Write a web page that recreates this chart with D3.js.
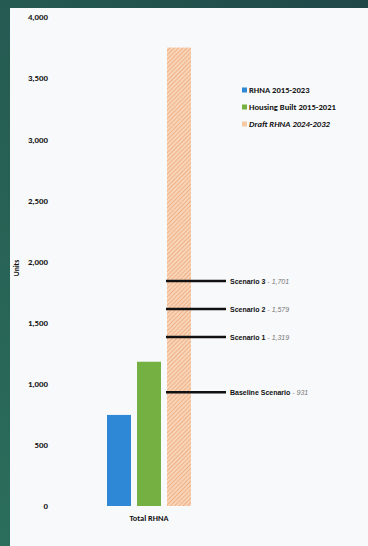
<!DOCTYPE html>
<html><head><meta charset="utf-8">
<script src="https://cdn.jsdelivr.net/npm/d3@7"></script>
<style>html,body{margin:0;padding:0;background:#2a6556;}svg{display:block;}</style>
</head><body>
<svg id="c" width="368" height="546"></svg>
<script>
const categories = ["Total RHNA"];
const seriesNames = ["RHNA 2015-2023", "Housing Built 2015-2021", "Draft RHNA 2024-2032"];
const seriesValues = [745, 1180, 3750];
const yTicks = [0, 500, 1000, 1500, 2000, 2500, 3000, 3500, 4000];
const scenarioNames = ["Baseline Scenario", "Scenario 1", "Scenario 2", "Scenario 3"];
const scenarioValues = [931, 1319, 1579, 1701];
const scenarioMarkerLevels = [931, 1382, 1611, 1840];

const svg = d3.select("#c");
const defs = svg.append("defs");
const g1 = defs.append("linearGradient").attr("id","bg").attr("x1",0).attr("y1",1).attr("x2",1).attr("y2",0);
g1.append("stop").attr("offset","0%").attr("stop-color","#2b6e5c");
g1.append("stop").attr("offset","100%").attr("stop-color","#1f4747");
svg.append("rect").attr("width",368).attr("height",546).attr("fill","url(#bg)");
svg.append("rect").attr("x",10).attr("y",8).attr("width",358).attr("height",538).attr("fill","#f8f9fb");

const pat = defs.append("pattern").attr("id","hatch").attr("patternUnits","userSpaceOnUse")
  .attr("width",3).attr("height",3).attr("patternTransform","rotate(45)");
pat.append("rect").attr("width",3).attr("height",3).attr("fill","#f8d4b8");
pat.append("line").attr("x1",0).attr("y1",0).attr("x2",0).attr("y2",3).attr("stroke","#eda372").attr("stroke-width",1.4);

const font = "Carlito, Lato, 'Liberation Sans', sans-serif";
const y = d3.scaleLinear().domain([0,4000]).range([506,17]);
const x0 = d3.scaleBand().domain(categories).range([107,191]).padding(0);
const x1 = d3.scaleBand().domain(seriesNames).range([0,x0.bandwidth()]).paddingInner(0.2).paddingOuter(0);
const colors = d3.scaleOrdinal().domain(seriesNames).range(["#2e88d6","#74b042","url(#hatch)"]);

const yAxis = svg.append("g").attr("transform","translate(49,0)")
  .call(d3.axisLeft(y).tickValues(yTicks).tickSize(0).tickPadding(1).tickFormat(d3.format(",")));
yAxis.select(".domain").remove();
yAxis.selectAll("text").attr("font-family",font).attr("font-weight","900").attr("font-size",8.8).attr("fill","#111");

svg.append("text").attr("transform","translate(19,268) rotate(-90)").attr("text-anchor","middle")
  .attr("font-family",font).attr("font-weight","900").attr("font-size",7.5).attr("fill","#111").text("Units");

const grp = svg.selectAll("g.cat").data(categories).join("g").attr("class","cat")
  .attr("transform",d=>`translate(${x0(d)},0)`);
grp.selectAll("rect").data(seriesNames.map((s,i)=>({s,v:seriesValues[i]}))).join("rect")
  .attr("x",d=>x1(d.s)).attr("width",x1.bandwidth())
  .attr("y",d=>y(d.v)).attr("height",d=>y(0)-y(d.v)).attr("fill",d=>colors(d.s));

const xAxis = svg.append("g").attr("transform","translate(0,506)")
  .call(d3.axisBottom(x0).tickSize(0).tickPadding(9));
xAxis.select(".domain").remove();
xAxis.selectAll("text").attr("font-family",font).attr("font-weight","900").attr("font-size",8.3).attr("fill","#111");

const lineX = x0(categories[0]) + x1(seriesNames[2]) - 1;
const sc = svg.append("g");
scenarioNames.forEach((n,i)=>{
  const yy = y(scenarioMarkerLevels[i]);
  sc.append("line").attr("x1",lineX).attr("x2",lineX+60).attr("y1",yy).attr("y2",yy)
    .attr("stroke","#111").attr("stroke-width",2.6);
  const t = sc.append("text").attr("x",lineX+64).attr("y",yy+2.5)
    .attr("font-family","'Liberation Sans', Arial, sans-serif").attr("font-size",7);
  t.append("tspan").attr("font-weight","bold").attr("fill","#111").text(n);
  t.append("tspan").attr("fill","#777").attr("font-style","italic").text(" - " + d3.format(",")(scenarioValues[i]));
});

const leg = svg.append("g").attr("transform","translate(242,90)");
seriesNames.forEach((n,i)=>{
  const r = leg.append("g").attr("transform",`translate(0,${i*17})`);
  r.append("rect").attr("x",0).attr("y",-2.5).attr("width",5).attr("height",5).attr("fill",["#2e88d6","#74b042","#f5c9a4"][i]);
  r.append("text").attr("x",7).attr("y",3).attr("font-family",font).attr("font-weight","900")
    .attr("font-style", i===2 ? "italic" : "normal").attr("font-size",8.6).attr("fill","#111").text(n);
});
</script>
</body></html>
